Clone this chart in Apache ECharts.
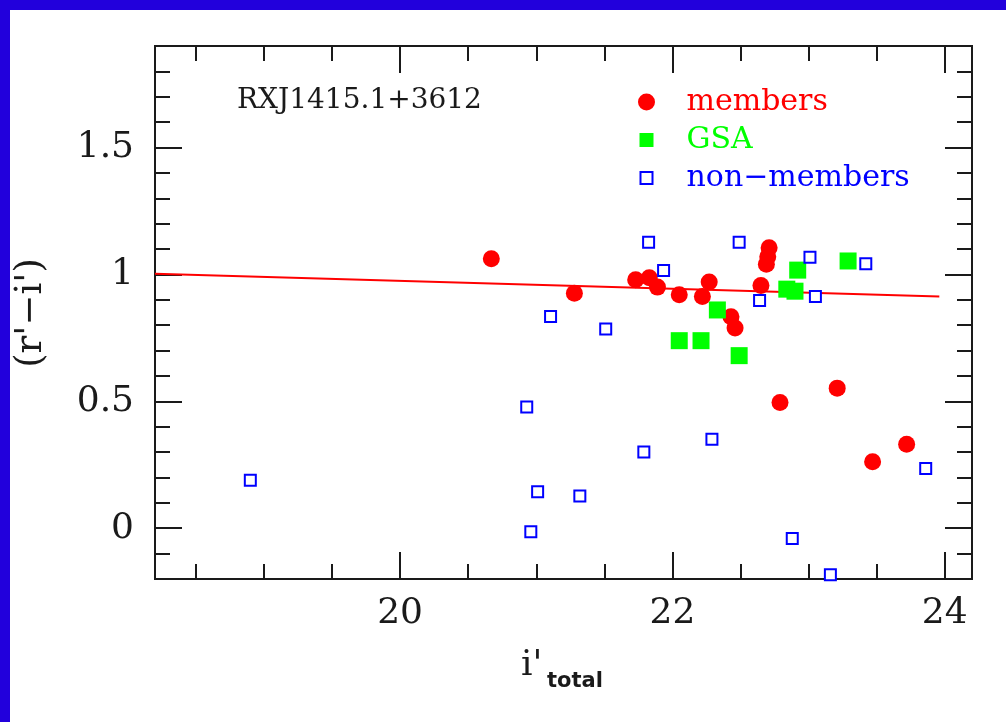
<!DOCTYPE html>
<html>
<head>
<meta charset="utf-8">
<title>RXJ1415.1+3612 colour–magnitude diagram</title>
<script src="https://cdn.jsdelivr.net/npm/echarts@6/dist/echarts.min.js"></script>
<style>
  html, body { margin: 0; padding: 0; background: #ffffff; }
  #chart { width: 1006px; height: 722px; }
</style>
</head>
<body>
<div id="chart"></div>
<script>
// Spectroscopic cluster members: i'_total magnitude and (r'-i') colour
const membersX = [20.67, 21.28, 21.73, 21.83, 21.89, 22.05, 22.22, 22.27, 22.43, 22.46, 22.65, 22.71, 22.70, 22.69, 22.79, 23.21, 23.47, 23.72];
const membersY = [1.062, 0.926, 0.979, 0.987, 0.950, 0.920, 0.913, 0.970, 0.833, 0.789, 0.956, 1.105, 1.070, 1.040, 0.495, 0.552, 0.262, 0.331];

// GSA objects
const gsaX = [22.05, 22.21, 22.33, 22.49, 22.84, 22.90, 22.92, 23.29];
const gsaY = [0.739, 0.739, 0.860, 0.680, 0.942, 0.934, 1.017, 1.053];

// Non-members
const nonX = [18.90, 20.93, 20.96, 21.01, 21.105, 21.32, 21.51, 21.79, 21.825, 21.935, 22.29, 22.49, 22.64, 22.88, 23.01, 23.05, 23.16, 23.42, 23.86];
const nonY = [0.189, 0.478, -0.014, 0.144, 0.834, 0.127, 0.785, 0.300, 1.127, 1.015, 0.351, 1.127, 0.897, -0.040, 1.068, 0.913, -0.183, 1.042, 0.235];

// Red-sequence fit (end points)
const fitX = [18.2, 23.96];
const fitY = [1.003, 0.913];

// Axis extents and tick values
const xRange = [18.2, 24.2];
const yRange = [-0.2, 1.9];
const xMajorTicks = [20, 22, 24];
const xMinorTicks = [18.5, 19, 19.5, 20, 20.5, 21, 21.5, 22, 22.5, 23, 23.5, 24];
const yMajorTicks = [0, 0.5, 1, 1.5];
const yMinorTicks = [-0.1, 0, 0.1, 0.2, 0.3, 0.4, 0.5, 0.6, 0.7, 0.8, 0.9, 1.0, 1.1, 1.2, 1.3, 1.4, 1.5, 1.6, 1.7, 1.8];

const SERIF = '"DejaVu Serif", "Liberation Serif", serif';
const INK = '#1a1a1a';

const pairs = (xs, ys) => xs.map((x, i) => [x, ys[i]]);

// One tick layer: major ticks (long, optionally labelled) or minor ticks (short)
function tickAxis(kind, position, values, length, labelled) {
  const range = kind === 'x' ? xRange : yRange;
  const axis = {
    type: 'value',
    position: position,
    min: range[0],
    max: range[1],
    axisLine: { show: false, onZero: false },
    splitLine: { show: false },
    axisTick: {
      show: true,
      inside: true,
      length: length,
      customValues: values,
      lineStyle: { color: INK, width: 2 }
    },
    axisLabel: { show: false },
    axisPointer: { show: false }
  };
  if (labelled) {
    axis.axisLabel = {
      show: true,
      customValues: values,
      margin: kind === 'x' ? 17 : 21,
      fontFamily: SERIF,
      fontSize: 36,
      color: INK
    };
  }
  return axis;
}

const chart = echarts.init(document.getElementById('chart'), null, { renderer: 'canvas' });

chart.setOption({
  animation: false,
  backgroundColor: '#ffffff',
  title: {
    text: 'RXJ1415.1+3612',
    left: 237,
    top: 87,
    padding: 0,
    textStyle: { fontFamily: SERIF, fontSize: 28, fontWeight: 'normal', color: INK }
  },
  legend: {
    orient: 'vertical',
    left: 637,
    top: 87,
    padding: 0,
    itemWidth: 18,
    itemHeight: 17,
    itemGap: 8,
    selectedMode: false,
    textStyle: { fontFamily: SERIF, fontSize: 30, lineHeight: 30, padding: [0, 0, 0, 26] },
    data: [
      { name: 'members', icon: 'circle', textStyle: { color: '#ff0000' } },
      { name: 'GSA', icon: 'path://M0,0L0,0M17,17L17,17M1.5,1.5H15.5V15.5H1.5Z', textStyle: { color: '#00ff00' } },
      { name: 'non\u2212members', icon: 'path://M0,0L0,0M17,17L17,17M2.5,2.5H14.5V14.5H2.5Z',
        itemStyle: { color: '#ffffff', borderColor: '#0000ff', borderWidth: 2 },
        textStyle: { color: '#0000ff' } }
    ]
  },
  grid: {
    left: 155,
    top: 46,
    right: 34,
    bottom: 143,
    show: true,
    borderColor: INK,
    borderWidth: 2,
    backgroundColor: 'transparent',
    outerBoundsMode: 'none'
  },
  xAxis: [
    tickAxis('x', 'bottom', xMajorTicks, 27, true),
    tickAxis('x', 'bottom', xMinorTicks, 15, false),
    tickAxis('x', 'top', xMajorTicks, 27, false),
    tickAxis('x', 'top', xMinorTicks, 15, false)
  ],
  yAxis: [
    tickAxis('y', 'left', yMajorTicks, 27, true),
    tickAxis('y', 'left', yMinorTicks, 15, false),
    tickAxis('y', 'right', yMajorTicks, 27, false),
    tickAxis('y', 'right', yMinorTicks, 15, false)
  ],
  series: [
    {
      name: 'fit',
      type: 'line',
      data: pairs(fitX, fitY),
      symbol: 'none',
      silent: true,
      lineStyle: { color: '#ff0000', width: 2 },
      z: 2
    },
    {
      name: 'members',
      type: 'scatter',
      data: pairs(membersX, membersY),
      symbol: 'circle',
      symbolSize: 17,
      itemStyle: { color: '#ff0000', opacity: 1 },
      emphasis: { disabled: true },
      z: 3
    },
    {
      name: 'GSA',
      type: 'scatter',
      data: pairs(gsaX, gsaY),
      symbol: 'rect',
      symbolSize: 17,
      itemStyle: { color: '#00ff00', opacity: 1 },
      emphasis: { disabled: true },
      z: 4
    },
    {
      name: 'non\u2212members',
      type: 'scatter',
      data: pairs(nonX, nonY),
      symbol: 'rect',
      symbolSize: 11,
      itemStyle: { color: '#ffffff', borderColor: '#0000ff', borderWidth: 2, opacity: 1 },
      emphasis: { disabled: true },
      z: 5
    }
  ],
  graphic: [
    // page frame
    { type: 'rect', left: 0, top: 0, shape: { width: 1006, height: 10 }, style: { fill: '#2200dc' }, silent: true },
    { type: 'rect', left: 0, top: 0, shape: { width: 10, height: 722 }, style: { fill: '#2200dc' }, silent: true },
    // y-axis title
    {
      type: 'text', x: 31, y: 313, rotation: Math.PI / 2, silent: true,
      style: { text: "(r'\u2212i')", font: '37px "DejaVu Serif"', fill: INK, align: 'center', verticalAlign: 'middle' }
    },
    // x-axis title: i' with subscript "total"
    {
      type: 'text', x: 521, y: 684, silent: true,
      style: { text: "i'", font: '36px "DejaVu Serif"', fill: INK, align: 'left', verticalAlign: 'bottom' }
    },
    {
      type: 'text', x: 547, y: 692, silent: true,
      style: { text: 'total', font: 'bold 21px "DejaVu Sans"', fill: INK, align: 'left', verticalAlign: 'bottom' }
    }
  ]
});
</script>
</body>
</html>
